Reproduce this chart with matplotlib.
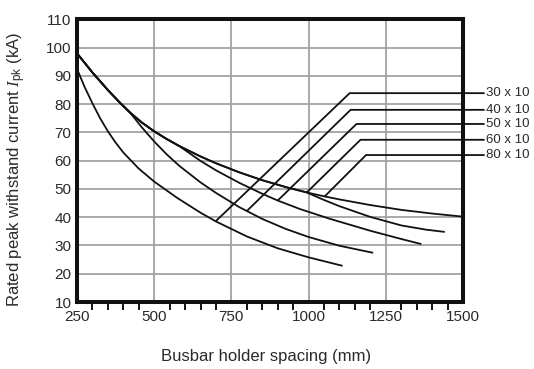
"""Rated peak withstand current vs. busbar holder spacing for flat copper bars.

Writes out.png (534x369 px) in the working folder:

  python plot.py
"""

from __future__ import annotations

from pathlib import Path

import matplotlib

matplotlib.use("Agg")
import matplotlib.pyplot as plt
import numpy as np

OUTPUT = Path("out.png")

# Shared upper curve, the bigger bar sizes follow it until they branch off
TOP_X = [250, 300, 350, 390, 422, 460, 500, 540, 581, 650, 700, 775, 850, 925, 993]
TOP_Y = [98.0, 91.2, 85.0, 80.4, 77.0, 73.5, 70.4, 67.7, 65.2, 61.5, 59.1, 55.9, 53.1, 50.7, 48.8]

# 30 x 10 is a curve of its own
X_30 = [250, 275, 300, 325, 350, 375, 400, 450, 500, 575, 650, 700, 800, 900, 1000, 1110]
Y_30 = [92.5, 86.0, 80.3, 75.0, 70.4, 66.4, 62.9, 57.2, 52.6, 46.8, 41.6, 38.5, 33.2, 29.0, 25.8, 22.8]

# each of these branches off TOP at its first x value
X_40 = [422, 460, 500, 540, 580, 649, 700, 775, 850, 925, 1000, 1100, 1209]
Y_40 = [77.0, 71.8, 66.8, 62.3, 58.3, 52.4, 48.6, 43.6, 39.4, 35.9, 33.0, 29.9, 27.4]

X_50 = [581, 649, 700, 775, 850, 900, 972, 1067, 1200, 1300, 1365]
Y_50 = [65.2, 60.0, 56.6, 52.2, 48.3, 45.9, 42.9, 39.5, 35.2, 32.3, 30.5]

X_60 = [993, 1050, 1100, 1200, 1300, 1380, 1441]
Y_60 = [48.8, 46.1, 43.9, 40.1, 37.1, 35.6, 34.8]

X_80 = [993, 1050, 1100, 1200, 1300, 1400, 1500]
Y_80 = [48.8, 47.4, 46.3, 44.3, 42.6, 41.3, 40.2]

LABELS = ["30 x 10", "40 x 10", "50 x 10", "60 x 10", "80 x 10"]
# leader lines: where they touch the curve, their bend, and the label height
LEADER_X = [699, 800, 900, 994, 1052]
CORNER_X = [1133, 1136, 1155, 1168, 1186]
LABEL_Y = [83.9, 78.0, 73.0, 67.4, 62.0]

X_TICKS = [250, 500, 750, 1000, 1250, 1500]
Y_TICKS = [10, 20, 30, 40, 50, 60, 70, 80, 90, 100, 110]

LINE_KW = dict(color="#111111", linewidth=1.3, solid_capstyle="butt", zorder=3)
TEXT_COLOR = "#2a2a2a"


def _curves() -> list[tuple[list[float], list[float]]]:
    """Full x/y of each bar size, with its share of the upper curve prepended."""
    top_x = np.array(TOP_X)
    top_y = np.array(TOP_Y)
    out = [(X_30, Y_30)]
    for xs, ys in [(X_40, Y_40), (X_50, Y_50), (X_60, Y_60), (X_80, Y_80)]:
        keep = top_x < xs[0]
        out.append((list(top_x[keep]) + xs, list(top_y[keep]) + ys))
    return out


def plot_withstand_current(output_path: Path = OUTPUT) -> Path:
    plt.rcParams["font.family"] = ["Liberation Sans", "DejaVu Sans"]
    plt.rcParams["mathtext.fontset"] = "custom"
    plt.rcParams["mathtext.rm"] = "Liberation Sans"
    plt.rcParams["mathtext.it"] = "Liberation Serif:italic"

    fig = plt.figure(figsize=(5.34, 3.69), dpi=100)
    ax = fig.add_axes([77 / 534, 1 - 302 / 369, 386 / 534, 282.6 / 369])

    curves = _curves()
    for xs, ys in curves:
        ax.plot(xs, ys, **LINE_KW)

    # leader lines: diagonal up from the curve, then flat out to the label
    x_end = 1570
    for (xs, ys), lx, cx, ly, label in zip(curves, LEADER_X, CORNER_X, LABEL_Y, LABELS):
        y0 = float(np.interp(lx, xs, ys))
        ax.plot([lx, cx, x_end], [y0, ly, ly], clip_on=False, **LINE_KW)
        ax.text(x_end + 6, ly, label, fontsize=9.5, color=TEXT_COLOR,
                va="center", ha="left", clip_on=False)

    ax.set_xlim(250, 1500)
    ax.set_ylim(10, 110)

    ax.set_xticks(X_TICKS)
    ax.set_yticks(Y_TICKS)
    minor = [x for x in range(300, 1500, 50) if x % 250]
    ax.set_xticks(minor, minor=True)
    ax.tick_params(axis="x", which="major", length=0, pad=6, labelsize=11,
                   labelcolor=TEXT_COLOR)
    ax.tick_params(axis="x", which="minor", direction="out", length=6,
                   width=1.4, color="#111111")
    ax.tick_params(axis="y", length=0, pad=4, labelsize=11, labelcolor=TEXT_COLOR)

    ax.grid(True, which="major", color="#a3a3a3", linewidth=1.3, zorder=1)
    ax.set_axisbelow(True)
    for spine in ax.spines.values():
        spine.set_linewidth(2.9)
        spine.set_color("#111111")
        spine.set_zorder(4)

    ax.set_xlabel("Busbar holder spacing (mm)", fontsize=12, color=TEXT_COLOR)
    ax.xaxis.set_label_coords(0.49, -0.165)
    ax.set_ylabel(r"Rated peak withstand current $I_{\mathrm{pk}}$ (kA)",
                  fontsize=12, color=TEXT_COLOR)
    ax.yaxis.set_label_coords(-0.128, 0.47)

    fig.savefig(output_path, dpi=100)
    plt.close(fig)
    return output_path


def main() -> None:
    out = plot_withstand_current()
    print(f"Saved chart: {out}")


if __name__ == "__main__":
    main()
